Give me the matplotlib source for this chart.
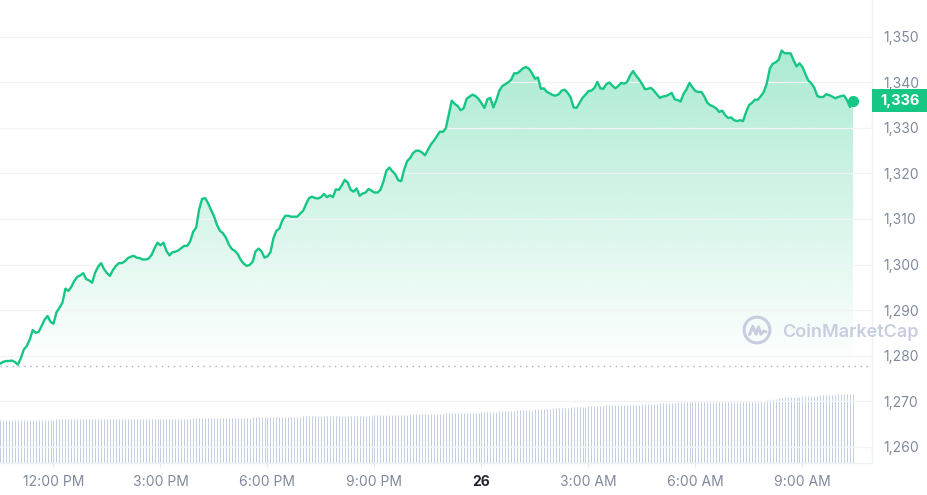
"""24h price chart in the CoinMarketCap style: price line with gradient fill,
volume bars along the bottom and the latest price tag on the right axis."""

import matplotlib
matplotlib.use("Agg")
import matplotlib.pyplot as plt
import matplotlib.dates as mdates
import matplotlib.transforms as mtransforms
from matplotlib.colors import to_rgb
from matplotlib.patches import Polygon, Rectangle, Circle
import numpy as np
import pandas as pd

plt.rcParams["font.family"] = ["Inter", "DejaVu Sans"]

START = "2024-01-25 10:30"

# 5-minute closes, one row per hour
prices = [
    1278.2, 1278.6, 1278.8, 1278.8, 1278.9, 1278.6, 1278.0, 1279.4, 1281.3, 1282.1, 1283.5, 1285.6,
    1285.0, 1285.2, 1286.5, 1287.9, 1288.7, 1287.4, 1287.0, 1289.5, 1290.5, 1291.6, 1294.7, 1294.2,
    1295.1, 1296.4, 1297.3, 1297.6, 1298.1, 1296.8, 1296.5, 1296.0, 1298.2, 1299.5, 1300.3, 1299.0,
    1298.1, 1297.5, 1298.8, 1299.7, 1300.3, 1300.3, 1300.7, 1301.4, 1301.7, 1301.9, 1301.5, 1301.4,
    1301.1, 1301.1, 1301.3, 1302.1, 1303.6, 1304.8, 1304.2, 1304.8, 1303.0, 1302.0, 1302.7, 1302.8,
    1303.1, 1303.6, 1304.1, 1304.1, 1305.1, 1307.2, 1308.1, 1312.1, 1314.4, 1314.6, 1313.5, 1312.0,
    1310.6, 1308.7, 1307.4, 1306.9, 1305.9, 1304.4, 1303.4, 1303.0, 1302.3, 1301.0, 1300.2, 1299.7,
    1299.9, 1300.6, 1302.9, 1303.5, 1302.9, 1301.5, 1301.8, 1302.7, 1305.8, 1307.4, 1307.9, 1309.7,
    1310.7, 1310.7, 1310.5, 1310.5, 1310.5, 1311.2, 1311.8, 1313.3, 1314.6, 1314.9, 1314.6, 1314.5,
    1314.8, 1315.5, 1314.8, 1315.2, 1314.8, 1316.5, 1316.4, 1317.4, 1318.6, 1318.0, 1316.4, 1316.0,
    1316.7, 1315.1, 1315.6, 1315.8, 1316.6, 1316.2, 1315.8, 1315.8, 1316.4, 1318.2, 1320.6, 1321.3,
    1320.5, 1319.8, 1318.5, 1318.3, 1320.9, 1322.7, 1323.4, 1324.5, 1325.0, 1325.0, 1324.6, 1324.0,
    1325.2, 1326.4, 1327.2, 1328.2, 1329.2, 1329.1, 1329.9, 1332.9, 1336.0, 1335.3, 1334.8, 1333.9,
    1334.3, 1336.4, 1336.9, 1337.3, 1337.0, 1336.4, 1335.4, 1334.4, 1336.3, 1336.6, 1334.5, 1336.1,
    1338.2, 1339.2, 1339.6, 1340.0, 1340.6, 1342.0, 1342.0, 1342.5, 1343.1, 1343.4, 1343.0, 1342.0,
    1340.8, 1341.1, 1338.6, 1338.7, 1337.9, 1337.6, 1337.2, 1337.1, 1337.4, 1338.2, 1338.4, 1337.7,
    1336.7, 1334.5, 1334.4, 1335.5, 1336.6, 1337.3, 1338.1, 1338.2, 1338.8, 1340.1, 1338.7, 1338.6,
    1339.6, 1340.0, 1339.3, 1338.7, 1339.2, 1339.9, 1339.7, 1340.1, 1341.5, 1342.5, 1341.5, 1340.7,
    1339.7, 1338.5, 1338.6, 1338.8, 1338.2, 1337.4, 1336.6, 1336.9, 1337.0, 1337.3, 1337.7, 1336.3,
    1336.1, 1335.8, 1337.5, 1338.5, 1339.9, 1338.9, 1338.1, 1337.9, 1337.9, 1336.9, 1335.5, 1335.0,
    1334.7, 1334.3, 1333.5, 1333.8, 1332.8, 1332.2, 1332.3, 1331.7, 1331.5, 1331.7, 1331.5, 1333.4,
    1335.0, 1335.5, 1336.2, 1336.2, 1337.0, 1337.9, 1339.8, 1343.0, 1344.1, 1344.4, 1345.0, 1347.0,
    1346.4, 1346.4, 1346.4, 1344.9, 1343.5, 1344.2, 1343.4, 1341.8, 1340.4, 1339.8, 1338.8, 1337.0,
    1336.8, 1336.8, 1337.4, 1337.2, 1336.9, 1336.5, 1336.8, 1337.0, 1337.1, 1336.1, 1334.6, 1336.0,
]

# rolling 24h volume (relative units), same 5-minute steps
volume = [
    43, 43, 43, 43, 43, 43, 43, 43, 43, 43, 43, 43,
    43, 43, 43, 43, 43, 43, 43, 44, 44, 44, 44, 44,
    44, 44, 44, 44, 44, 44, 44, 44, 44, 44, 44, 44,
    44, 44, 44, 44, 44, 44, 44, 44, 44, 44, 44, 44,
    44, 44, 44, 44, 44, 44, 44, 44, 44, 44, 44, 44,
    44, 44, 44, 44, 44, 45, 45, 45, 45, 45, 45, 45,
    45, 45, 45, 45, 45, 45, 45, 45, 45, 45, 45, 45,
    45, 46, 46, 46, 46, 46, 46, 46, 46, 46, 46, 46,
    46, 46, 46, 46, 46, 46, 47, 47, 47, 47, 47, 47,
    47, 47, 47, 47, 47, 47, 47, 47, 47, 47, 47, 47,
    47, 47, 47, 47, 47, 47, 48, 48, 48, 48, 48, 48,
    48, 48, 48, 48, 48, 48, 49, 49, 49, 49, 49, 49,
    49, 49, 49, 49, 49, 49, 50, 50, 50, 50, 50, 50,
    50, 50, 50, 50, 50, 50, 51, 51, 51, 51, 51, 51,
    52, 52, 52, 52, 52, 52, 53, 53, 53, 53, 53, 53,
    54, 54, 54, 54, 54, 54, 55, 55, 55, 55, 55, 55,
    56, 56, 56, 56, 56, 56, 57, 57, 57, 57, 57, 57,
    58, 58, 58, 58, 58, 58, 58, 58, 58, 58, 58, 58,
    59, 59, 59, 59, 59, 59, 60, 60, 60, 60, 60, 60,
    61, 61, 61, 61, 61, 61, 61, 61, 61, 61, 61, 61,
    61, 61, 61, 61, 61, 61, 61, 61, 61, 61, 61, 61,
    61, 61, 61, 61, 61, 61, 63, 63, 64, 64, 65, 65,
    66, 66, 66, 66, 66, 66, 67, 67, 67, 67, 67, 67,
    68, 68, 68, 68, 68, 68, 69, 69, 69, 69, 69, 69,
]

open_price = 1277.7
price_ticks = [1260, 1270, 1280, 1290, 1300, 1310, 1320, 1330, 1340, 1350]
time_ticks = [
    "2024-01-25 12:00", "2024-01-25 15:00", "2024-01-25 18:00", "2024-01-25 21:00",
    "2024-01-26 00:00", "2024-01-26 03:00", "2024-01-26 06:00", "2024-01-26 09:00",
]
time_labels = ["12:00 PM", "3:00 PM", "6:00 PM", "9:00 PM", "26", "3:00 AM", "6:00 AM", "9:00 AM"]

GREEN = "#16c784"
GREY = "#808a9d"
LIGHT = "#eff2f5"

times = pd.date_range(START, periods=len(prices), freq="5min")
t = mdates.date2num(times)
p = np.array(prices)

W, H = 928, 495
fig = plt.figure(figsize=(W / 100, H / 100), dpi=100)
ax = fig.add_axes([0, 1 - 463 / H, 872 / W, 463 / H])

# volume on its own hidden scale, behind the price axes
axv = ax.twinx()
axv.set_zorder(ax.get_zorder() - 1)
ax.patch.set_visible(False)
axv.vlines(t, 0, volume, color="#c9cfe3", lw=0.75)
axv.set_ylim(0, max(volume) * 463 / 69)
axv.set_yticks([])
for s in axv.spines.values():
    s.set_visible(False)

# gradient fill under the line, clipped to the area above the open price
grad = np.zeros((256, 1, 4))
grad[..., :3] = to_rgb(GREEN)
grad[:, 0, 3] = np.linspace(0.36, 0.0, 256)
im = ax.imshow(grad, extent=[t[0], t[-1], open_price, p.max()], aspect="auto",
               origin="upper", zorder=1, interpolation="bilinear")
poly = Polygon(np.column_stack([np.r_[t, t[-1], t[0]], np.r_[p, open_price, open_price]]),
               closed=True, facecolor="none", edgecolor="none")
ax.add_patch(poly)
im.set_clip_path(poly)

ax.axhline(open_price, color="#a7afc0", lw=1.0, ls=(0, (1, 3.3)), zorder=2)
ax.plot(t, p, color=GREEN, lw=1.7, solid_joinstyle="round", zorder=3)
ax.plot(t[-1], p[-1], "o", ms=7, color=GREEN, zorder=4)

ax.set_xlim(t[0], t[0] + 1467 / 1440)
ax.set_ylim(1256.4, 1358.1)

ax.set_yticks(price_ticks)
ax.set_yticklabels([f"{v:,}" for v in price_ticks])
ax.yaxis.tick_right()
ax.tick_params(axis="y", length=0, pad=8, labelsize=10, labelcolor=GREY)
ax.grid(axis="y", color="#f2f3f6", lw=0.9)

ax.set_xticks(mdates.date2num(pd.to_datetime(time_ticks)))
ax.set_xticklabels(time_labels)
ax.tick_params(axis="x", length=3, width=0.8, color="#e3e6ec", pad=6,
               labelsize=10, labelcolor=GREY)
for lbl in ax.get_xticklabels():
    if lbl.get_text() == "26":
        lbl.set_color("#222531")
        lbl.set_fontweight("bold")

for side in ("top", "left"):
    ax.spines[side].set_visible(False)
for side in ("right", "bottom"):
    ax.spines[side].set_color(LIGHT)
    ax.spines[side].set_linewidth(1.0)

# latest price tag on the right axis
tag_tr = mtransforms.blended_transform_factory(fig.transFigure, ax.transData)
ax.add_patch(Rectangle((872 / W, p[-1] - 2.5), 56 / W, 5.0, transform=tag_tr,
                       facecolor=GREEN, edgecolor="none", clip_on=False, zorder=5))
ax.text(900 / W, p[-1], f"{p[-1]:,.0f}", transform=tag_tr, ha="center", va="center",
        color="white", fontsize=10.5, fontweight="bold", zorder=6, clip_on=False)

# watermark
WM = "#c8cedf"
fig.text(782 / W, 1 - 332 / H, "CoinMarketCap", ha="left", va="center",
         fontsize=13, fontweight="semibold", color=WM)
axl = fig.add_axes([742 / W, 1 - 345 / H, 30 / W, 30 / H])
axl.set_xlim(0, 1)
axl.set_ylim(0, 1)
axl.axis("off")
axl.add_patch(Circle((0.5, 0.5), 0.43, fill=False, ec=WM, lw=2.2))
axl.plot([0.25, 0.36, 0.47, 0.55, 0.63, 0.72, 0.8],
         [0.35, 0.62, 0.36, 0.6, 0.36, 0.46, 0.44], color=WM, lw=2.2,
         solid_joinstyle="round", solid_capstyle="round")

fig.savefig("out.png", dpi=100)
plt.close(fig)
